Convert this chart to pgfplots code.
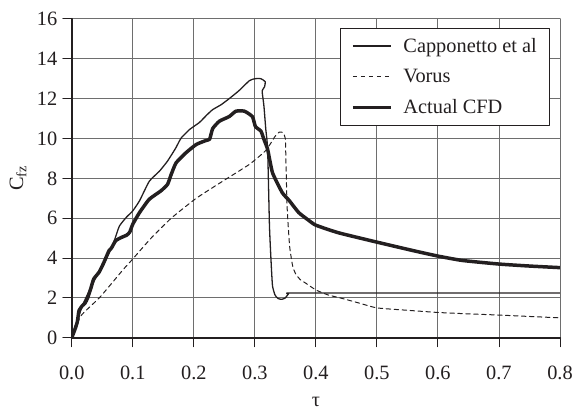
\documentclass[border=0pt]{standalone}
\usepackage{fontspec}
\setmainfont{Liberation Serif}
\usepackage{pgfplots}
\pgfplotsset{compat=1.18}

\definecolor{ink}{HTML}{231F20}
\definecolor{gridgray}{HTML}{6E6E6E}

\begin{document}
\begin{tikzpicture}
\begin{axis}[
  name=ax,
  scale only axis,
  width=490bp, height=320bp,
  xmin=0, xmax=0.8, ymin=0, ymax=16,
  xtick={0,0.1,0.2,0.3,0.4,0.5,0.6,0.7,0.8},
  ytick={0,2,4,6,8,10,12,14,16},
  axis x line*=bottom, axis y line*=left,
  axis line style={ink, line width=2.2bp, -},
  grid=major,
  major grid style={gridgray, line width=0.9bp},
  tick align=outside,
  major tick length=9bp,
  tick style={ink, line width=0.9bp},
  /pgf/number format/assume math mode=true,
  xticklabel style={/pgf/number format/fixed, /pgf/number format/fixed zerofill,
    /pgf/number format/precision=1, yshift=-16bp},
  yticklabel style={xshift=-2bp},
  tick label style={font=\fontsize{20.5}{24}\selectfont, text=ink},
  xlabel={τ},
  ylabel={C\textsubscript{fz}},
  every axis x label/.style={at={(axis description cs:0.5,-0.2)}, anchor=center,
    font=\fontsize{20.5}{24}\selectfont, text=ink},
  every axis y label/.style={at={(axis description cs:-0.11,0.5)}, anchor=center,
    rotate=90, font=\fontsize{20.5}{24}\selectfont, text=ink},
  legend style={
    at={(axis description cs:0.98,0.972)}, anchor=north east,
    draw=ink, line width=0.9bp, fill=white,
    font=\fontsize{20.5}{24}\selectfont, text=ink,
    inner xsep=11bp, inner ysep=8bp,
    row sep=11.5bp,
  },
  legend cell align=left,
  legend image code/.code={\draw[#1] (0bp,0bp) -- (38bp,0bp); \path (47bp,0bp);},
  line join=round, line cap=round,
]

% Capponetto et al
\addplot[ink, line width=1.3bp, smooth, tension=0.3] coordinates {
(0,0) (0.005,0.5) (0.010,0.95) (0.015,1.4) (0.020,1.8) (0.028,2.3)
(0.035,2.75) (0.045,3.35) (0.055,3.9) (0.062,4.3) (0.070,4.9) (0.078,5.6)
(0.089,6.03) (0.100,6.37) (0.111,6.87) (0.127,7.85) (0.144,8.37)
(0.157,8.87) (0.170,9.5) (0.176,9.85) (0.180,10.05) (0.193,10.45)
(0.209,10.8) (0.222,11.2) (0.231,11.45) (0.245,11.7) (0.258,12.0)
(0.274,12.4) (0.291,12.9) (0.300,13.0) (0.310,13.0) (0.317,12.85)
(0.316,12.6) (0.312,12.4) (0.313,12.1) (0.315,11.6) (0.318,10.45)
(0.321,9.45) (0.324,5.6) (0.327,3.6) (0.329,2.6) (0.333,2.15)
(0.338,1.97) (0.344,1.93) (0.350,2.0) (0.355,2.2) (0.358,2.25)
(0.500,2.25) (0.650,2.25) (0.800,2.25)
};
\addlegendentry{Capponetto et al}

% Vorus
\addplot[ink, line width=1bp, dash pattern=on 4.5bp off 3.5bp, smooth, tension=0.3] coordinates {
(0,0) (0.015,1.1) (0.046,2.03) (0.085,3.45) (0.097,3.85) (0.130,5.0)
(0.163,6.0) (0.204,7.0) (0.247,7.85) (0.291,8.7) (0.318,9.4)
(0.333,10.1) (0.340,10.32) (0.346,10.3) (0.350,10.0) (0.351,8.8)
(0.353,6.5) (0.357,4.6) (0.362,3.6) (0.367,3.2) (0.375,2.9)
(0.383,2.75) (0.400,2.4) (0.420,2.15) (0.440,2.0) (0.470,1.75)
(0.500,1.5) (0.550,1.38) (0.600,1.27) (0.650,1.2) (0.700,1.14)
(0.750,1.07) (0.800,1.0)
};
\addlegendentry{Vorus}

% Actual CFD
\addplot[ink, line width=3.5bp, smooth, tension=0.3] coordinates {
(0,0) (0.005,0.4) (0.009,0.78) (0.011,1.2) (0.012,1.37) (0.017,1.6)
(0.022,1.75) (0.026,2.0) (0.031,2.45) (0.036,2.95) (0.045,3.3)
(0.053,3.8) (0.061,4.37) (0.065,4.5) (0.072,4.87) (0.081,5.03)
(0.090,5.15) (0.095,5.3) (0.100,5.7) (0.111,6.28) (0.127,6.95)
(0.146,7.37) (0.157,7.7) (0.163,8.2) (0.171,8.78) (0.187,9.28)
(0.204,9.7) (0.220,9.9) (0.226,9.97) (0.231,10.5) (0.242,10.87)
(0.258,11.1) (0.269,11.37) (0.283,11.37) (0.296,11.1) (0.301,10.6)
(0.310,10.37) (0.315,9.95) (0.321,9.45) (0.329,8.28) (0.345,7.28)
(0.356,6.9) (0.372,6.28) (0.388,5.9) (0.400,5.65) (0.437,5.27)
(0.500,4.8) (0.560,4.37) (0.600,4.1) (0.640,3.88) (0.700,3.7)
(0.750,3.6) (0.800,3.52)
};
\addlegendentry{Actual CFD}

\end{axis}
\path[use as bounding box] ([xshift=-72bp,yshift=-76bp]ax.south west) rectangle ([xshift=14bp,yshift=19bp]ax.north east);
\end{tikzpicture}
\end{document}
